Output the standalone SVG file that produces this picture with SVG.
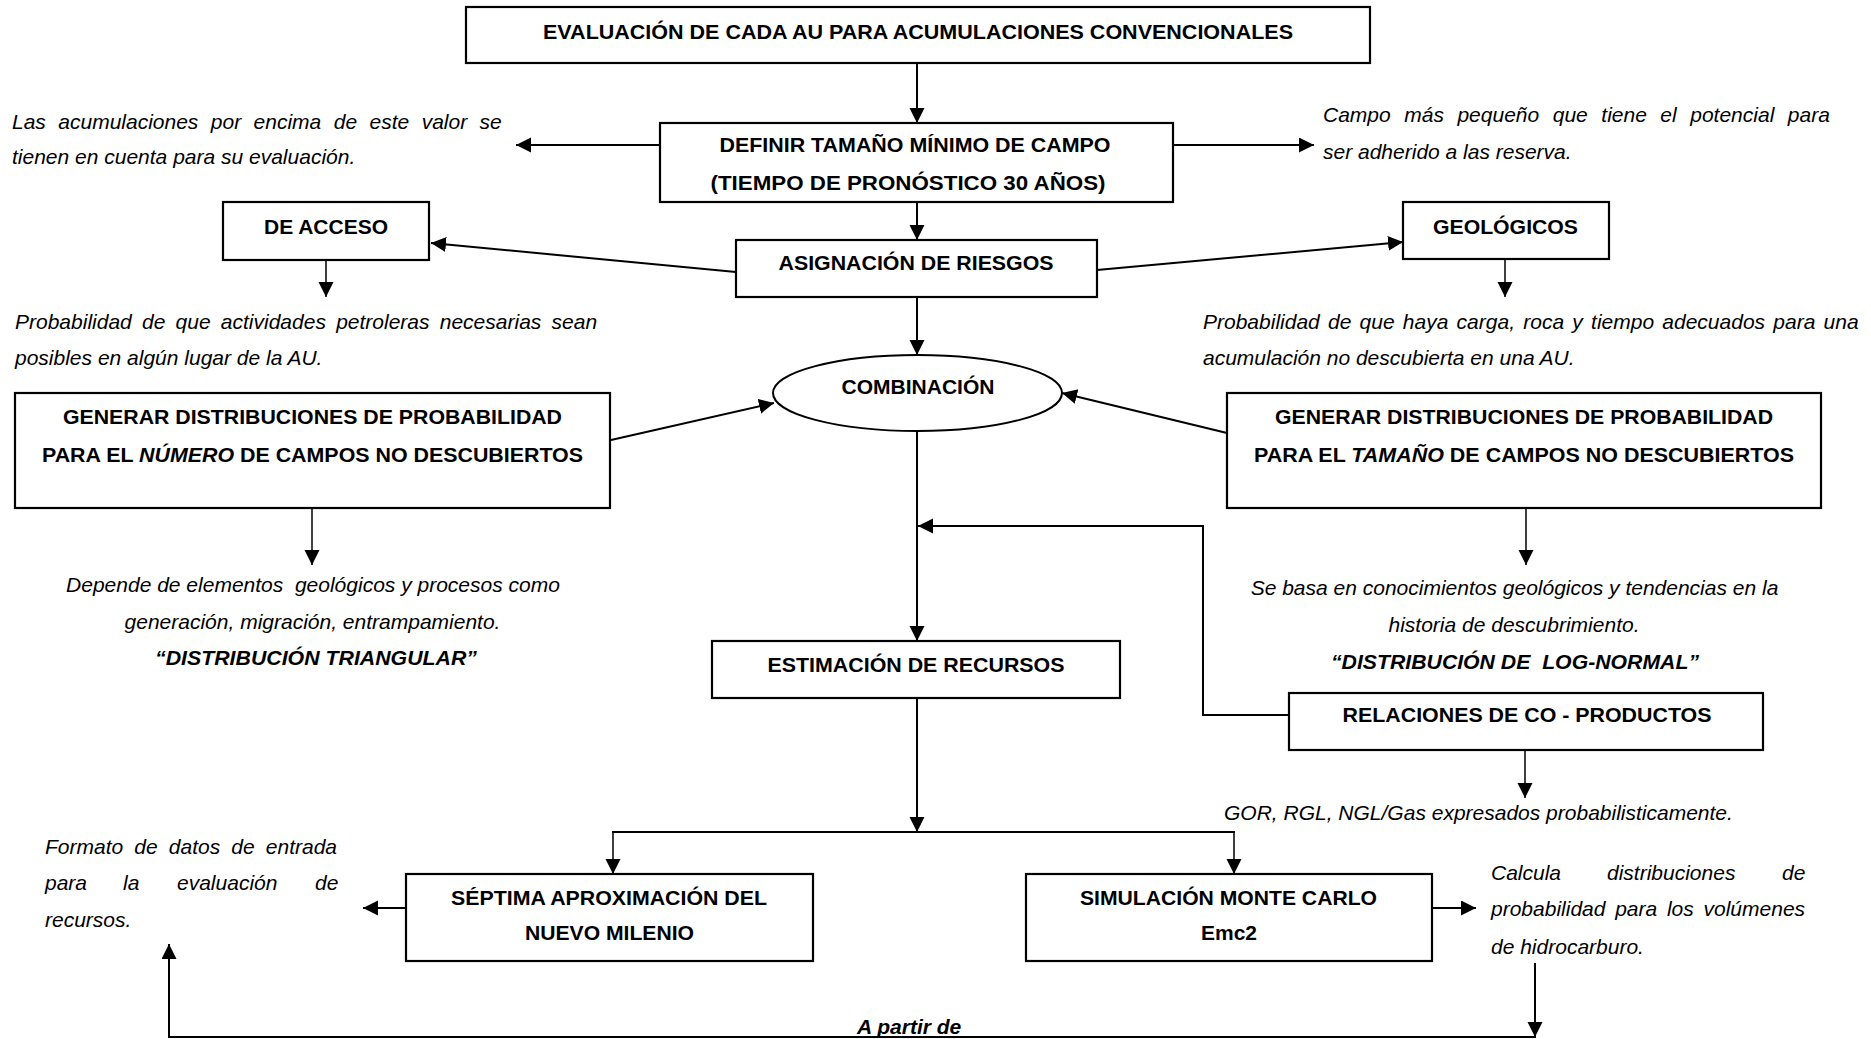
<svg xmlns="http://www.w3.org/2000/svg" width="1871" height="1039" viewBox="0 0 1871 1039">
<defs>
<marker id="ah" markerUnits="userSpaceOnUse" markerWidth="16" markerHeight="16" refX="15" refY="7.5" orient="auto">
<path d="M0,0 L15,7.5 L0,15 z" fill="#000"/>
</marker>
<style>
.box{fill:#fff;stroke:#000;stroke-width:2.2}
.b{font-family:"Liberation Sans",Arial,sans-serif;font-weight:bold;font-size:21px;fill:#000}
.i{font-family:"Liberation Sans",Arial,sans-serif;font-style:italic;font-size:21px;fill:#000}
.bi{font-family:"Liberation Sans",Arial,sans-serif;font-style:italic;font-weight:bold;font-size:21px;fill:#000}
.c{text-anchor:middle}
.ln{fill:none;stroke:#000;stroke-width:2}
.lt{fill:none;stroke:#000;stroke-width:1.5}
</style>
</defs>
<rect width="1871" height="1039" fill="#fff"/>

<g id="connectors">
<line class="ln" x1="917" y1="63" x2="917" y2="123" marker-end="url(#ah)"/>
<line class="ln" x1="660" y1="145" x2="516" y2="145" marker-end="url(#ah)"/>
<line class="ln" x1="1173" y1="145" x2="1314" y2="145" marker-end="url(#ah)"/>
<line class="ln" x1="917" y1="202" x2="917" y2="240" marker-end="url(#ah)"/>
<line class="ln" x1="736" y1="272" x2="431" y2="243" marker-end="url(#ah)"/>
<line class="ln" x1="1097" y1="270" x2="1403" y2="242" marker-end="url(#ah)"/>
<line class="lt" x1="326" y1="260" x2="326" y2="297" marker-end="url(#ah)"/>
<line class="lt" x1="1505" y1="259" x2="1505" y2="297" marker-end="url(#ah)"/>
<line class="ln" x1="917" y1="297" x2="917" y2="355" marker-end="url(#ah)"/>
<line class="ln" x1="611" y1="440" x2="774" y2="403" marker-end="url(#ah)"/>
<line class="ln" x1="1227" y1="433" x2="1062" y2="393" marker-end="url(#ah)"/>
<line class="lt" x1="312" y1="508" x2="312" y2="565" marker-end="url(#ah)"/>
<line class="lt" x1="1526" y1="508" x2="1526" y2="565" marker-end="url(#ah)"/>
<line class="ln" x1="917" y1="431" x2="917" y2="641" marker-end="url(#ah)"/>
<polyline class="ln" points="1289,715 1203,715 1203,526 918,526" marker-end="url(#ah)"/>
<line class="ln" x1="917" y1="698" x2="917" y2="832" marker-end="url(#ah)"/>
<line class="ln" x1="612" y1="832" x2="1235" y2="832"/>
<line class="lt" x1="613" y1="832" x2="613" y2="874" marker-end="url(#ah)"/>
<line class="lt" x1="1234" y1="832" x2="1234" y2="874" marker-end="url(#ah)"/>
<line class="ln" x1="406" y1="908" x2="363" y2="908" marker-end="url(#ah)"/>
<line class="ln" x1="1432" y1="908" x2="1476" y2="908" marker-end="url(#ah)"/>
<line class="ln" x1="1535" y1="963" x2="1535" y2="1037" marker-end="url(#ah)"/>
<polyline class="ln" points="1536,1037 169,1037 169,944" marker-end="url(#ah)"/>
<line class="lt" x1="1525" y1="750" x2="1525" y2="798" marker-end="url(#ah)"/>
</g>

<g id="n-evaluacion">
<rect class="box" x="466" y="7" width="904" height="56"/>
<text class="b c" x="918" y="39" textLength="750" lengthAdjust="spacingAndGlyphs">EVALUACIÓN DE CADA AU PARA ACUMULACIONES CONVENCIONALES</text>
</g>

<g id="n-definir">
<rect class="box" x="660" y="123" width="513" height="79"/>
<text class="b c" x="915" y="152" textLength="391" lengthAdjust="spacingAndGlyphs">DEFINIR TAMAÑO MÍNIMO DE CAMPO</text>
<text class="b c" x="908" y="190" textLength="395" lengthAdjust="spacingAndGlyphs">(TIEMPO DE PRONÓSTICO 30 AÑOS)</text>
</g>

<g id="t-acumulaciones">
<text class="i" x="12" y="129" word-spacing="6.6">Las acumulaciones por encima de este valor se</text>
<text class="i" x="12" y="164">tienen en cuenta para su evaluación.</text>
</g>

<g id="t-campo">
<text class="i" x="1323" y="122" word-spacing="7.7">Campo más pequeño que tiene el potencial para</text>
<text class="i" x="1323" y="159">ser adherido a las reserva.</text>
</g>

<g id="n-asignacion">
<rect class="box" x="736" y="240" width="361" height="57"/>
<text class="b c" x="916" y="270" textLength="275" lengthAdjust="spacingAndGlyphs">ASIGNACIÓN DE RIESGOS</text>
</g>

<g id="n-acceso">
<rect class="box" x="223" y="202" width="206" height="58"/>
<text class="b c" x="326" y="234" textLength="124" lengthAdjust="spacingAndGlyphs">DE ACCESO</text>
</g>

<g id="n-geologicos">
<rect class="box" x="1403" y="202" width="206" height="57"/>
<text class="b c" x="1505.5" y="234" textLength="145" lengthAdjust="spacingAndGlyphs">GEOLÓGICOS</text>
</g>

<g id="t-acceso">
<text class="i" x="15" y="329" word-spacing="4.4">Probabilidad de que actividades petroleras necesarias sean</text>
<text class="i" x="15" y="365">posibles en algún lugar de la AU.</text>
</g>

<g id="t-geologicos">
<text class="i" x="1203" y="329" word-spacing="2.4">Probabilidad de que haya carga, roca y tiempo adecuados para una</text>
<text class="i" x="1203" y="365">acumulación no descubierta en una AU.</text>
</g>

<g id="n-combinacion">
<ellipse cx="917.5" cy="393" rx="144.5" ry="38" fill="#fff" stroke="#000" stroke-width="2"/>
<text class="b c" x="918" y="394" textLength="153" lengthAdjust="spacingAndGlyphs">COMBINACIÓN</text>
</g>

<g id="n-numero">
<rect class="box" x="15" y="393" width="595" height="115"/>
<text class="b c" x="312.5" y="424" textLength="499" lengthAdjust="spacingAndGlyphs">GENERAR DISTRIBUCIONES DE PROBABILIDAD</text>
<text class="b c" x="312.5" y="462" textLength="541" lengthAdjust="spacingAndGlyphs">PARA EL <tspan class="bi">NÚMERO</tspan> DE CAMPOS NO DESCUBIERTOS</text>
</g>

<g id="n-tamano">
<rect class="box" x="1227" y="393" width="594" height="115"/>
<text class="b c" x="1524" y="424" textLength="498" lengthAdjust="spacingAndGlyphs">GENERAR DISTRIBUCIONES DE PROBABILIDAD</text>
<text class="b c" x="1524" y="462" textLength="540" lengthAdjust="spacingAndGlyphs">PARA EL <tspan class="bi">TAMAÑO</tspan> DE CAMPOS NO DESCUBIERTOS</text>
</g>

<g id="t-depende">
<text class="i c" x="313" y="592">Depende de elementos &#160;geológicos y procesos como</text>
<text class="i c" x="312.5" y="629">generación, migración, entrampamiento.</text>
<text class="bi c" x="316" y="665" textLength="322" lengthAdjust="spacingAndGlyphs">“DISTRIBUCIÓN TRIANGULAR”</text>
</g>

<g id="t-sebasa">
<text class="i c" x="1514.5" y="595">Se basa en conocimientos geológicos y tendencias en la</text>
<text class="i c" x="1514" y="632">historia de descubrimiento.</text>
<text class="bi c" x="1515" y="669" textLength="368" lengthAdjust="spacingAndGlyphs">“DISTRIBUCIÓN DE &#160;LOG-NORMAL”</text>
</g>

<g id="n-estimacion">
<rect class="box" x="712" y="641" width="408" height="57"/>
<text class="b c" x="916" y="672" textLength="297" lengthAdjust="spacingAndGlyphs">ESTIMACIÓN DE RECURSOS</text>
</g>

<g id="n-relaciones">
<rect class="box" x="1289" y="693" width="474" height="57"/>
<text class="b c" x="1527" y="722" textLength="369" lengthAdjust="spacingAndGlyphs">RELACIONES DE CO - PRODUCTOS</text>
</g>

<g id="t-gor">
<text class="i" x="1224" y="820">GOR, RGL, NGL/Gas expresados probabilisticamente.</text>
</g>

<g id="n-septima">
<rect class="box" x="406" y="874" width="407" height="87"/>
<text class="b c" x="609" y="905" textLength="316" lengthAdjust="spacingAndGlyphs">SÉPTIMA APROXIMACIÓN DEL</text>
<text class="b c" x="609.5" y="940" textLength="169" lengthAdjust="spacingAndGlyphs">NUEVO MILENIO</text>
</g>

<g id="n-simulacion">
<rect class="box" x="1026" y="874" width="406" height="87"/>
<text class="b c" x="1228.5" y="905" textLength="297" lengthAdjust="spacingAndGlyphs">SIMULACIÓN MONTE CARLO</text>
<text class="b c" x="1229" y="940">Emc2</text>
</g>

<g id="t-formato">
<text class="i" x="45" y="854" word-spacing="5.3">Formato de datos de entrada</text>
<text class="i" y="890"><tspan x="45">para</tspan><tspan x="123">la</tspan><tspan x="177">evaluación</tspan><tspan x="315">de</tspan></text>
<text class="i" x="45" y="927">recursos.</text>
</g>

<g id="t-calcula">
<text class="i" y="880"><tspan x="1491">Calcula</tspan><tspan x="1607">distribuciones</tspan><tspan x="1782">de</tspan></text>
<text class="i" x="1491" y="916" word-spacing="3.9">probabilidad para los volúmenes</text>
<text class="i" x="1491" y="954">de hidrocarburo.</text>
</g>

<g id="t-apartir">
<text class="bi" x="857" y="1034">A partir de</text>
</g>
</svg>
